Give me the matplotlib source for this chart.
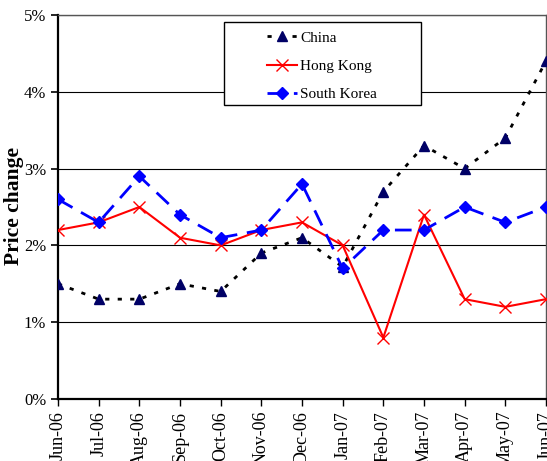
import matplotlib
matplotlib.use("Agg")
import matplotlib.pyplot as plt
from matplotlib.patches import Rectangle
from matplotlib.ticker import FuncFormatter

months = ["Jun-06", "Jul-06", "Aug-06", "Sep-06", "Oct-06", "Nov-06", "Dec-06",
          "Jan-07", "Feb-07", "Mar-07", "Apr-07", "May-07", "Jun-07"]
china = [1.5, 1.3, 1.3, 1.5, 1.4, 1.9, 2.1, 1.72, 2.7, 3.3, 3.0, 3.4, 4.4]
hong_kong = [2.2, 2.3, 2.5, 2.1, 2.0, 2.2, 2.3, 2.0, 0.8, 2.4, 1.3, 1.2, 1.3]
south_korea = [2.6, 2.3, 2.9, 2.4, 2.1, 2.2, 2.8, 1.7, 2.2, 2.2, 2.5, 2.3, 2.5]

plt.rcParams["font.family"] = ["Liberation Serif", "DejaVu Serif"]

fig = plt.figure(figsize=(5.47, 4.61), dpi=100)
ax = fig.add_axes([58 / 547, 1 - 399 / 461, 488 / 547, 384 / 461])

x = range(len(months))
ax.plot(x, china, color="black", lw=2, dashes=(1.5, 3), marker="^", ms=7,
        mfc="#000066", mec="#000066", label="China", zorder=3)
ax.plot(x, hong_kong, color="red", lw=1.5, marker="x", ms=9, mew=1,
        label="Hong Kong", zorder=4)
ax.plot(x, south_korea, color="blue", lw=2, dashes=(6, 3.5), marker="D", ms=6,
        label="South Korea", zorder=5)

ax.set_xlim(0, len(months) - 1)
ax.set_ylim(0, 5)
ax.set_yticks(range(6))
ax.yaxis.set_major_formatter(FuncFormatter(lambda v, p: f"{v:.0f}%"))
ax.set_xticks(list(x))
ax.set_xticklabels(months, rotation=90, fontsize=13)
ax.tick_params(axis="y", labelsize=12, direction="out", length=5, width=1.2)
ax.tick_params(axis="x", direction="out", length=5, width=1)
ax.grid(axis="y", color="black", lw=0.8)
ax.set_axisbelow(True)

for side in ["top", "right"]:
    ax.spines[side].set_color("#555555")
    ax.spines[side].set_linewidth(1)
ax.spines["left"].set_linewidth(1.6)
ax.spines["bottom"].set_linewidth(1.6)

fig.text(14 / 547, 1 - 206 / 461, "Price change", fontsize=15.5, fontweight="bold",
         rotation=90, ha="center", va="center")

box = Rectangle((0.340, 0.766), 0.404, 0.216, transform=ax.transAxes,
                facecolor="white", edgecolor="black", lw=1, zorder=6)
ax.add_patch(box)
leg = ax.legend(loc="upper left", bbox_to_anchor=(0.428, 0.958), frameon=False,
                fontsize=11, handlelength=2, handletextpad=0.2, labelspacing=0.95,
                borderpad=0, borderaxespad=0)
leg.set_zorder(7)

fig.savefig("out.png", dpi=100)
